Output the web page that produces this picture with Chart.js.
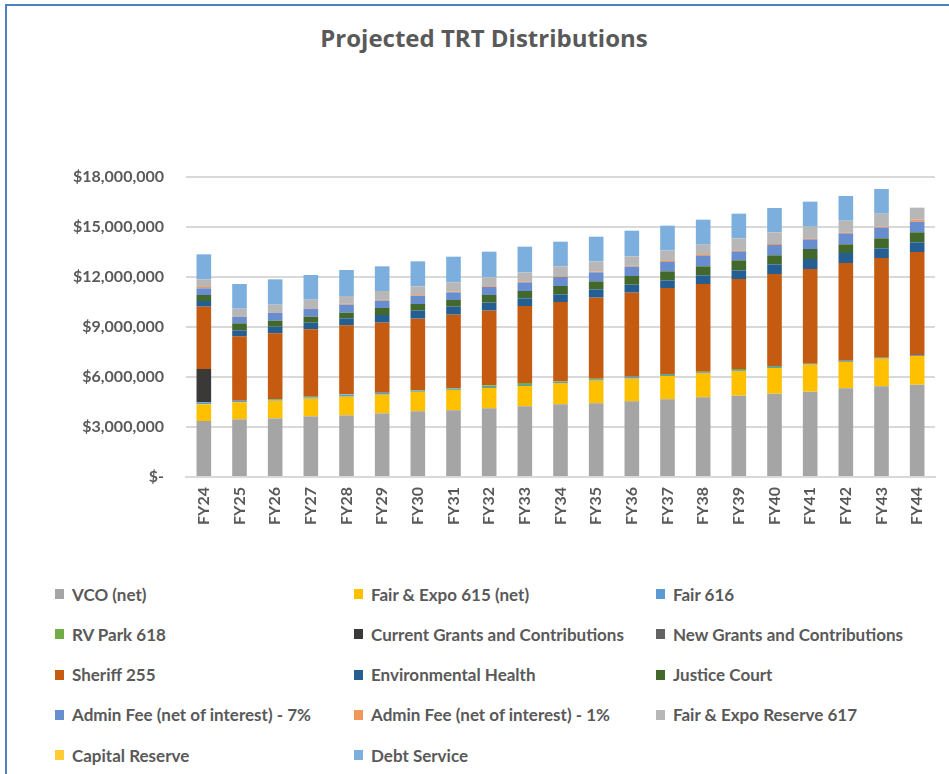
<!DOCTYPE html>
<html>
<head>
<meta charset="utf-8">
<title>Projected TRT Distributions</title>
<script src="https://cdn.jsdelivr.net/npm/chart.js@4.4.1/dist/chart.umd.min.js"></script>
<style>
  body { margin: 0; background: #fff; font-family: Lato, sans-serif; }
  .frame { position: absolute; left: 5px; top: 4px; width: 960px; height: 790px;
           border-top: 2px solid #4f81bd; border-left: 2px solid #4f81bd; }
  .chart-title { position: absolute; left: 0; top: 23px; width: 968px; text-align: center;
                 font: bold 24px/30px "Open Sans", sans-serif; color: #595959; }
  .chart-box { position: absolute; left: 0; top: 0; width: 949px; height: 540px; }
  .legend { position: absolute; left: 55px; top: 584px; display: grid;
            grid-template-columns: 299px 302px 280px; grid-auto-rows: 40.3px; }
  .legend-item { display: flex; align-items: center; height: 20px;
                 font: bold 17px Lato, sans-serif; color: #595959; white-space: nowrap; }
  .legend-item span.box { display: inline-block; width: 9px; height: 10px; margin-right: 8px; }
</style>
</head>
<body>
<div class="frame"></div>
<div class="chart-title">Projected TRT Distributions</div>
<div class="chart-box"><canvas class="trt-chart" width="949" height="540"></canvas></div>
<div class="legend"></div>

<script>
// fiscal years
const years = ['FY24', 'FY25', 'FY26', 'FY27', 'FY28', 'FY29', 'FY30', 'FY31', 'FY32', 'FY33', 'FY34',
    'FY35', 'FY36', 'FY37', 'FY38', 'FY39', 'FY40', 'FY41', 'FY42', 'FY43', 'FY44'];

// series values (dollars), bottom of the stack first
const vco = [3360000, 3460000, 3520000, 3640000, 3700000, 3820000, 3940000, 4000000, 4120000, 4240000, 4360000,
    4420000, 4540000, 4660000, 4780000, 4880000, 5000000, 5120000, 5320000, 5440000, 5540000];
const fairExpo615 = [1000000, 1020000, 1060000, 1060000, 1120000, 1120000, 1160000, 1220000, 1220000, 1220000, 1280000,
    1360000, 1360000, 1400000, 1460000, 1480000, 1540000, 1620000, 1580000, 1660000, 1720000];
const fair616 = [100000, 100000, 50000, 60000, 120000, 100000, 40000, 50000, 60000, 60000, 60000,
    50000, 100000, 60000, 50000, 50000, 60000, 40000, 50000, 40000, 60000];
const rvPark618 = [20000, 0, 50000, 60000, 20000, 20000, 60000, 50000, 100000, 120000, 40000,
    70000, 20000, 60000, 30000, 70000, 60000, 20000, 30000, 20000, 0];
const currentGrants = [2000000, 0, 0, 0, 0, 0, 0, 0, 0, 0, 0, 0, 0, 0, 0, 0, 0, 0, 0, 0, 0];
const newGrants = [0, 0, 0, 0, 0, 0, 0, 0, 0, 0, 0, 0, 0, 0, 0, 0, 0, 0, 0, 0, 0];
const sheriff255 = [3740000, 3860000, 3940000, 4040000, 4140000, 4200000, 4300000, 4420000, 4480000, 4620000, 4760000,
    4860000, 5040000, 5160000, 5260000, 5400000, 5520000, 5680000, 5860000, 5980000, 6180000];
const envHealth = [340000, 360000, 400000, 400000, 420000, 460000, 480000, 480000, 480000, 460000, 460000,
    500000, 480000, 460000, 520000, 520000, 580000, 600000, 600000, 580000, 580000];
const justiceCourt = [360000, 420000, 360000, 360000, 340000, 420000, 400000, 400000, 460000, 440000, 500000,
    480000, 520000, 540000, 540000, 600000, 540000, 600000, 520000, 600000, 600000];
const adminFee7 = [400000, 400000, 480000, 480000, 480000, 440000, 480000, 460000, 480000, 520000, 540000,
    540000, 560000, 560000, 620000, 540000, 620000, 580000, 660000, 640000, 640000];
const adminFee1 = [80000, 30000, 30000, 30000, 50000, 50000, 50000, 50000, 50000, 60000, 50000,
    50000, 50000, 60000, 60000, 60000, 60000, 60000, 60000, 60000, 120000];
const reserve617 = [460000, 450000, 450000, 510000, 470000, 530000, 530000, 550000, 530000, 540000, 590000,
    610000, 570000, 640000, 620000, 720000, 700000, 700000, 700000, 780000, 720000];
const capitalReserve = [0, 0, 0, 0, 0, 0, 0, 0, 0, 0, 0, 0, 0, 0, 0, 0, 0, 0, 0, 0, 0];
const debtService = [1500000, 1480000, 1520000, 1480000, 1560000, 1480000, 1500000, 1540000, 1540000, 1540000, 1480000,
    1480000, 1540000, 1480000, 1500000, 1480000, 1460000, 1500000, 1480000, 1480000, 0];

// y axis ticks
const yTicks = [0, 3000000, 6000000, 9000000, 12000000, 15000000, 18000000];

const series = [
    { label: 'VCO (net)', data: vco, color: '#a5a5a5' },
    { label: 'Fair & Expo 615 (net)', data: fairExpo615, color: '#ffc000' },
    { label: 'Fair 616', data: fair616, color: '#5b9bd5' },
    { label: 'RV Park 618', data: rvPark618, color: '#70ad47' },
    { label: 'Current Grants and Contributions', data: currentGrants, color: '#3b3838' },
    { label: 'New Grants and Contributions', data: newGrants, color: '#636363' },
    { label: 'Sheriff 255', data: sheriff255, color: '#c55a11' },
    { label: 'Environmental Health', data: envHealth, color: '#255e91' },
    { label: 'Justice Court', data: justiceCourt, color: '#43682b' },
    { label: 'Admin Fee (net of interest) - 7%', data: adminFee7, color: '#698ed0' },
    { label: 'Admin Fee (net of interest) - 1%', data: adminFee1, color: '#f1975a' },
    { label: 'Fair & Expo Reserve 617', data: reserve617, color: '#b7b7b7' },
    { label: 'Capital Reserve', data: capitalReserve, color: '#ffcd33' },
    { label: 'Debt Service', data: debtService, color: '#7cafdd' }
];

Chart.defaults.font.family = 'Lato';
Chart.defaults.color = '#595959';

const ctx = document.querySelector('.trt-chart');

const chart = new Chart(ctx, {
    type: 'bar',
    data: {
        labels: years,
        datasets: series.map(s => ({
            label: s.label,
            data: s.data,
            backgroundColor: s.color,
            borderWidth: 0,
            barPercentage: 0.41,
            categoryPercentage: 1
        }))
    },
    options: {
        responsive: false,
        animation: false,
        layout: { padding: { left: 0, right: 14, top: 177, bottom: 0 } },
        scales: {
            x: {
                stacked: true,
                grid: { display: false, drawTicks: false },
                border: { display: true, color: '#d9d9d9', width: 2 },
                ticks: {
                    autoSkip: false,
                    minRotation: 90,
                    maxRotation: 90,
                    padding: 10,
                    font: { size: 16, weight: 'bold' }
                },
                afterFit: scale => { scale.height = 63; }
            },
            y: {
                stacked: true,
                min: 0,
                max: 18000000,
                afterBuildTicks: scale => { scale.ticks = yTicks.map(v => ({ value: v })); },
                grid: { color: '#d9d9d9', lineWidth: 2, drawTicks: false },
                border: { display: false },
                ticks: {
                    padding: 22,
                    font: { size: 16, weight: 'bold' },
                    callback: v => v === 0 ? '$-' : '$' + v.toLocaleString('en-US')
                },
                afterFit: scale => { scale.width = 186; }
            }
        },
        plugins: {
            title: { display: false },
            legend: { display: false },
            tooltip: { enabled: false }
        }
    }
});

// legend in three columns, like the spreadsheet
const legendBox = document.querySelector('.legend');
chart.data.datasets.forEach(ds => {
    const item = document.createElement('div');
    item.className = 'legend-item';
    item.innerHTML = `<span class="box" style="background:${ds.backgroundColor}"></span>${ds.label}`;
    legendBox.appendChild(item);
});
</script>
</body>
</html>
